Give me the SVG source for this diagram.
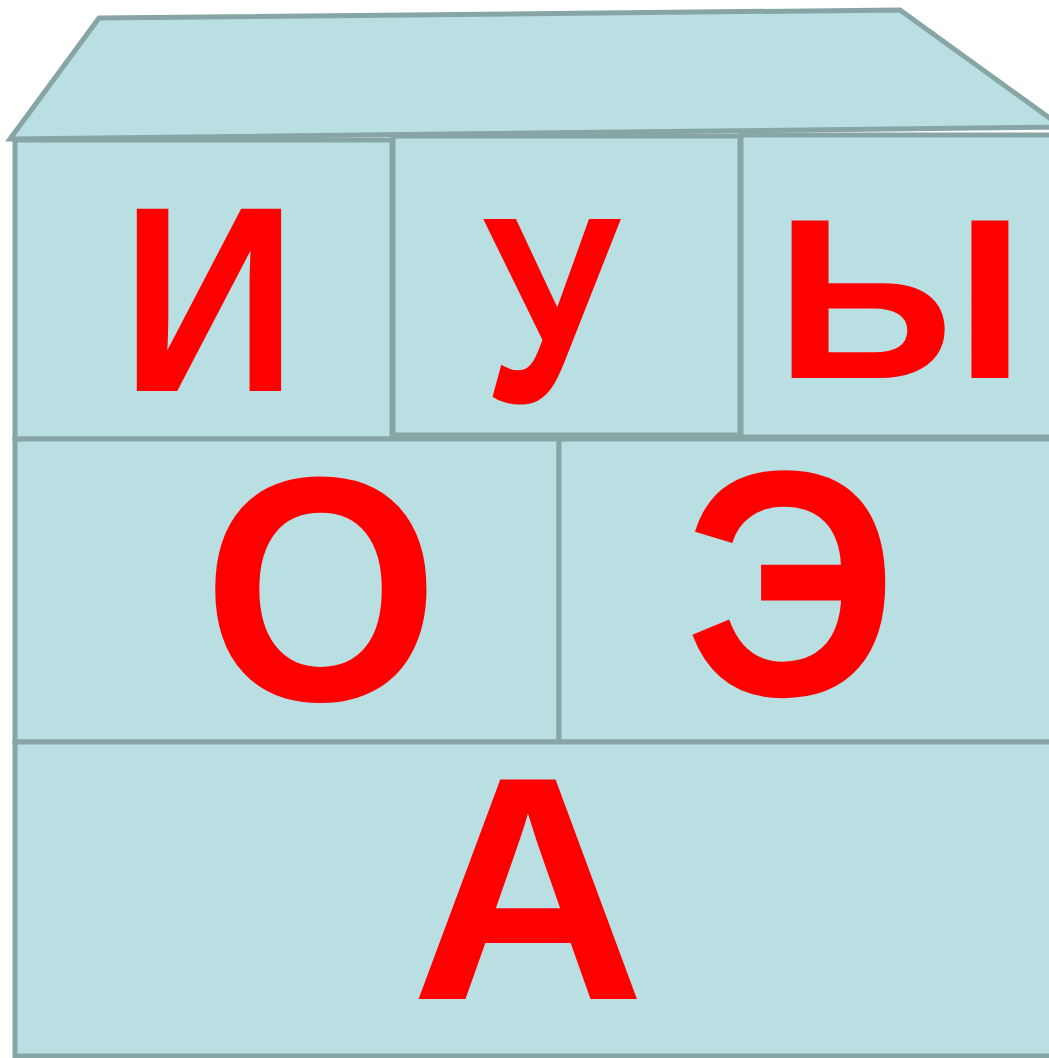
<svg xmlns="http://www.w3.org/2000/svg" width="1049" height="1058" viewBox="0 0 1049 1058">
<style>
.c{fill:#b9dfe2;stroke:#88a5a6;stroke-width:5}
.t{font-family:"Liberation Sans",Arial,sans-serif;font-weight:bold;fill:#ff0000;text-anchor:middle}
</style>
<rect width="1049" height="1058" fill="#ffffff"/>
<g id="roof"><polygon class="c" points="10,139 99,18 900,10 1062,127"/></g>
<g id="cell-i"><rect class="c" x="15" y="140" width="377" height="299"/><text class="t" transform="translate(209,391) scale(0.93,1)" font-size="265">И</text></g>
<g id="cell-u"><rect class="c" x="393" y="136" width="347" height="299"/><text class="t" transform="translate(551,402) scale(0.82,1)" font-size="266">У</text></g>
<g id="cell-y"><rect class="c" x="741" y="135" width="330" height="302"/><text class="t" transform="translate(900,378) scale(1.12,1)" font-size="229">Ы</text></g>
<g id="cell-o"><rect class="c" x="15" y="439" width="544" height="303"/><text class="t" transform="translate(321,700) scale(0.95,1)" font-size="320">О</text></g>
<g id="cell-e"><rect class="c" x="559" y="439" width="510" height="303"/><text class="t" transform="translate(791,695) scale(0.93,1)" font-size="322">Э</text></g>
<g id="cell-a"><rect class="c" x="15" y="742" width="1054" height="314"/><text class="t" transform="translate(528,999) scale(1.02,1)" font-size="319">А</text></g>
</svg>
